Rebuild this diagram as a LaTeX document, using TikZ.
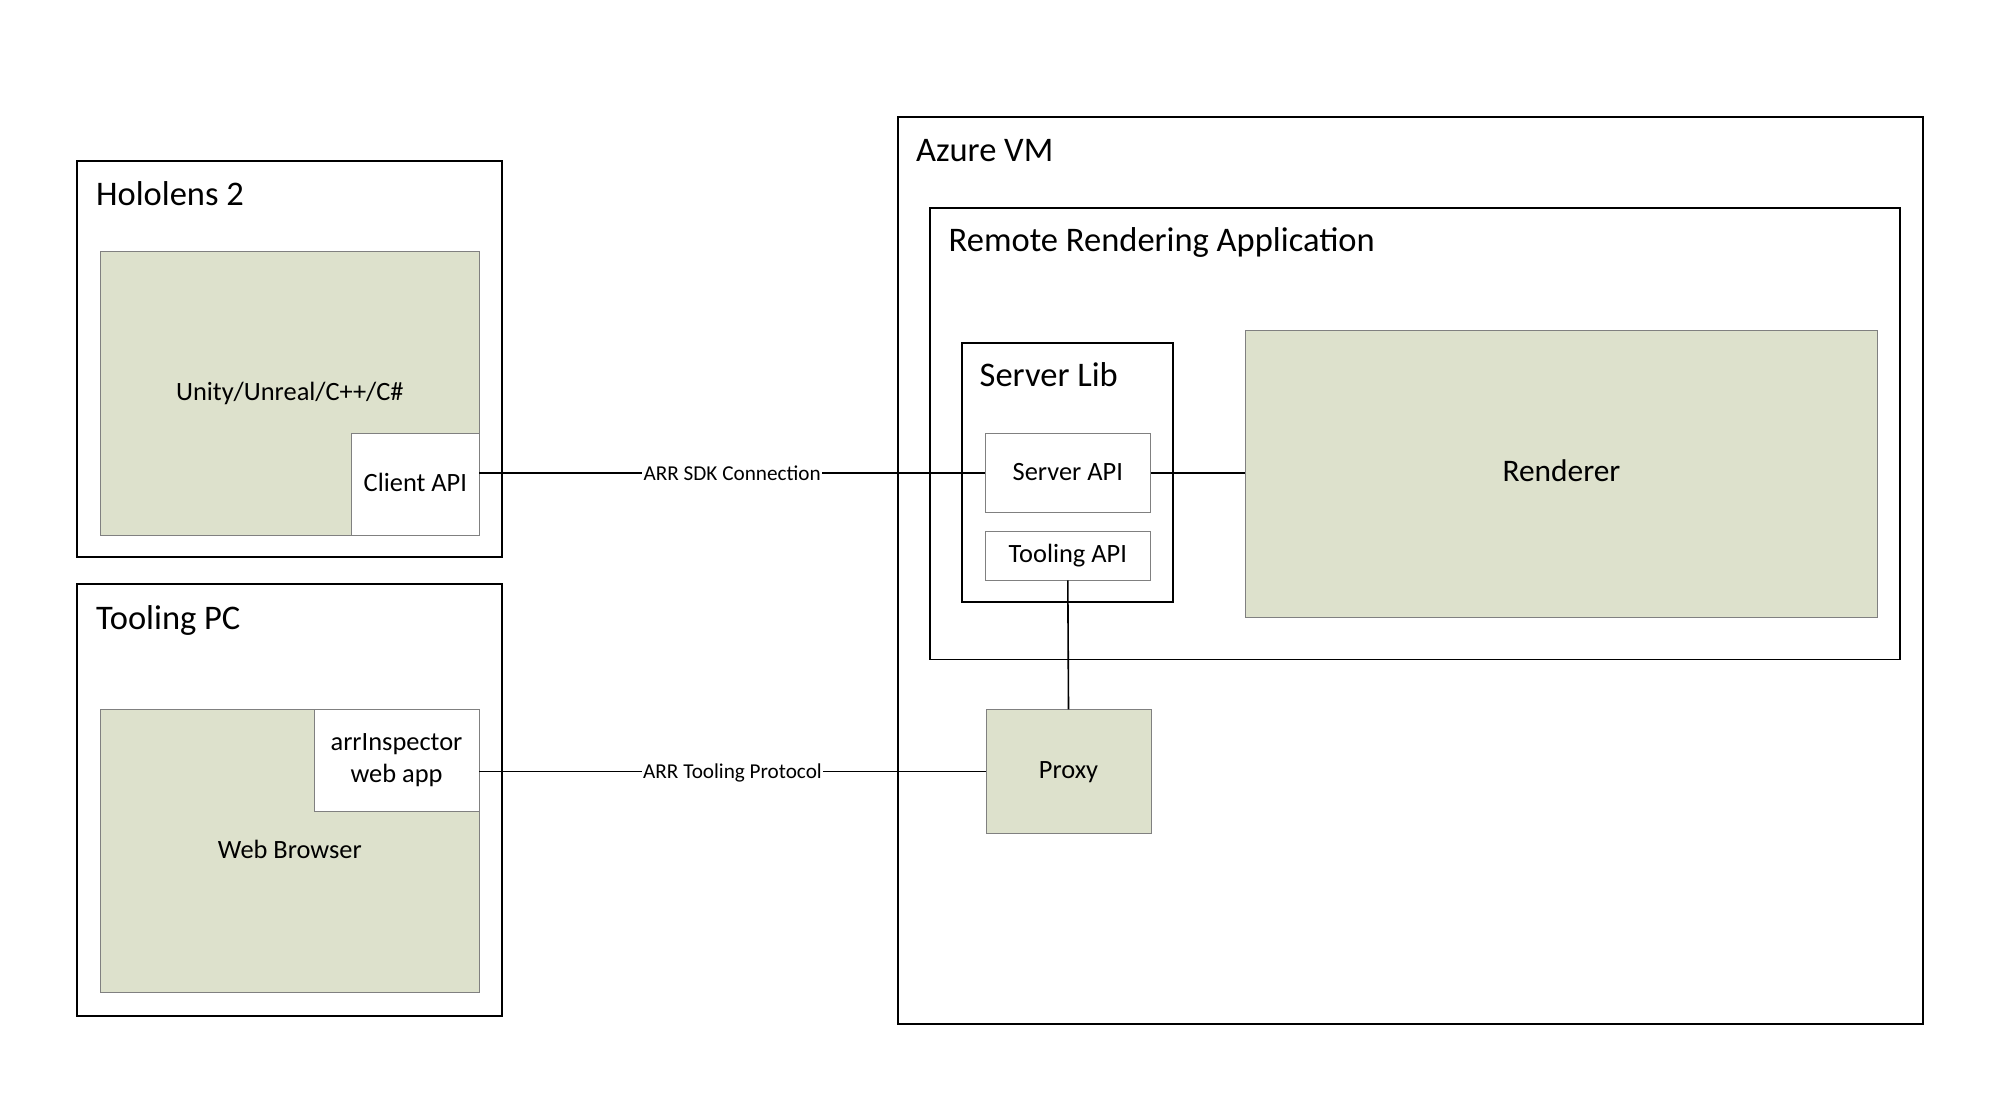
\documentclass[tikz,border=0pt]{standalone}
\usepackage{fontspec}
\setmainfont{Carlito}
\definecolor{boxgreen}{RGB}{221,225,204}
\definecolor{boxedge}{RGB}{128,128,128}
\tikzset{
  container/.style={draw=black, line width=0.9pt, inner sep=0pt},
  greenbox/.style={draw=boxedge, fill=boxgreen, line width=0.45pt, inner sep=0pt,
    text height=0.72em, text depth=0pt, font=\fontsize{13.2}{15.84}\selectfont},
  whitebox/.style={greenbox, fill=white},
  title/.style={anchor=base west, inner sep=0pt, font=\fontsize{17.25}{20}\selectfont},
  link/.style={draw=black, line width=0.8pt},
  linklabel/.style={fill=white, inner sep=0.6pt, text height=0.72em, text depth=0pt,
    font=\fontsize{10.6}{12}\selectfont},
}
\begin{document}
\begin{tikzpicture}[x=0.5pt,y=-0.5pt]
\useasboundingbox (0,0) rectangle (2000,1110);
% Hololens 2
\node[container, minimum width=212.5pt, minimum height=198pt] (holo) at (289.5,359) {};
\node[title] (holotitle) at (95.7,205) {Hololens 2};
\node[greenbox, minimum width=189.15pt, minimum height=142pt] (unity) at (289.85,393.7) {Unity/Unreal/C++/C\#};
\node[whitebox, minimum width=63.65pt, minimum height=51pt] (client) at (415.35,484.7) {Client API};
% Tooling PC
\node[container, minimum width=212.5pt, minimum height=215.7pt] (tpc) at (289.5,800) {};
\node[title] (tpctitle) at (95.7,629.3) {Tooling PC};
\node[greenbox, minimum width=189.15pt, minimum height=141.7pt] (browser) at (289.85,851) {Web Browser};
\node[whitebox, minimum width=82.5pt, minimum height=50.85pt, align=center, text height={}, text depth={}] (inspector) at (396.5,760.15) {arrInspector\\web app};
% Azure VM
\node[container, minimum width=512.5pt, minimum height=453.35pt] (azure) at (1410.2,570.65) {};
\node[title] (azuretitle) at (915.7,161) {Azure VM};
\node[container, minimum width=484.85pt, minimum height=225.7pt] (rra) at (1414.85,433.85) {};
\node[title] (rratitle) at (948.3,251.7) {Remote Rendering Application};
\node[container, minimum width=105.5pt, minimum height=129.5pt] (srvlib) at (1067.5,472.2) {};
\node[title] (srvlibtitle) at (979.3,386) {Server Lib};
\node[whitebox, minimum width=82.5pt, minimum height=39.5pt] (srvapi) at (1067.8,472.8) {Server API};
\node[whitebox, minimum width=82.5pt, minimum height=24.35pt] (toolapi) at (1067.8,555.65) {Tooling API};
\node[greenbox, minimum width=315.9pt, minimum height=143.15pt, font=\fontsize{15.7}{18}\selectfont] (renderer) at (1561.4,473.85) {Renderer};
\node[greenbox, minimum width=82.5pt, minimum height=61.8pt] (proxy) at (1068.5,771.5) {Proxy};
% connections
\draw[link] (srvapi.west -| client.east) -- node[linklabel] {ARR SDK Connection} (srvapi.west);
\draw[link] (srvapi.east) -- (srvapi.east -| renderer.west);
\draw[link] (proxy.west -| inspector.east) -- node[linklabel] {ARR Tooling Protocol} (proxy.west);
\draw[link] (toolapi.south) -- (proxy.north);
\end{tikzpicture}
\end{document}
